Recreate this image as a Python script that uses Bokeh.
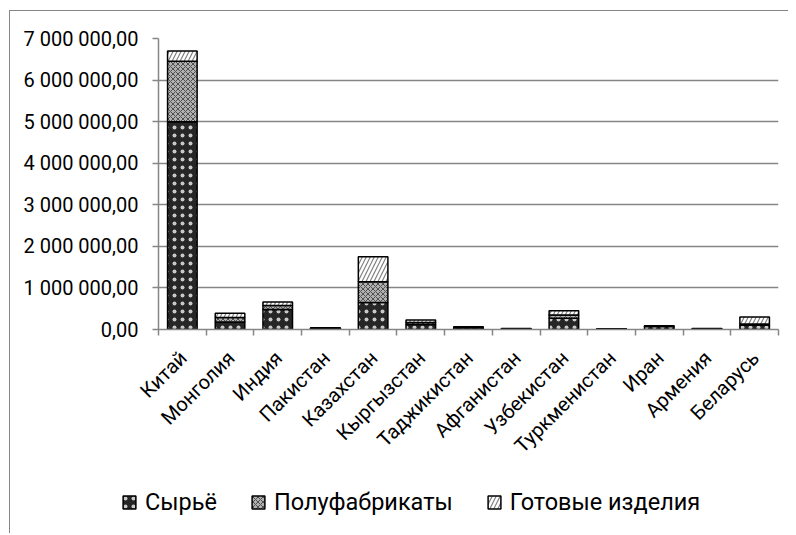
import math
from bokeh.plotting import figure
from bokeh.layouts import column
from bokeh.models import Range1d, FixedTicker, Legend, LegendItem, ColumnDataSource
from bokeh.embed import file_html
from bokeh.resources import INLINE

categories = ["Китай", "Монголия", "Индия", "Пакистан", "Казахстан", "Кыргызстан",
              "Таджикистан", "Афганистан", "Узбекистан", "Туркменистан", "Иран",
              "Армения", "Беларусь"]
syrye = [5000000, 180000, 480000, 30000, 650000, 120000, 45000, 15000, 270000, 10000, 70000, 15000, 100000]
polufabrikaty = [1450000, 110000, 100000, 5000, 500000, 50000, 10000, 5000, 80000, 5000, 10000, 5000, 30000]
gotovye = [250000, 100000, 80000, 5000, 600000, 60000, 10000, 5000, 100000, 5000, 10000, 5000, 170000]
series_names = ["Сырьё", "Полуфабрикаты", "Готовые изделия"]
y_ticks = [0, 1000000, 2000000, 3000000, 4000000, 5000000, 6000000, 7000000]

FONT = "Roboto"
GRAY = "#868686"
LABEL_SHIFT = 0.02
W = 778

styles = dict(
    fill_color=["#262626", "#b0b0b0", "white"],
    hatch_pattern=["dot", "diagonal_cross", "right_diagonal_line"],
    hatch_color=["white", "#505050", "#808080"],
    hatch_alpha=[0.75, 1.0, 1.0],
    hatch_scale=[8, 5, 8],
    hatch_weight=[1, 1, 1.2],
)

x = list(range(len(categories)))
src = ColumnDataSource(dict(x=x, syrye=syrye, polu=polufabrikaty, gotov=gotovye))

p = figure(width=W, height=458, output_backend="svg", toolbar_location=None,
           x_range=Range1d(-0.5, len(categories) - 0.5), y_range=Range1d(0, y_ticks[-1]),
           min_border_left=148, min_border_right=10, min_border_top=27, min_border_bottom=140)
p.outline_line_color = None
p.frame_align = False

rs = p.vbar_stack(["syrye", "polu", "gotov"], x="x", width=0.62, source=src,
                  line_color="black", line_width=1.5, **styles)

# y axis
p.yaxis.ticker = FixedTicker(ticks=y_ticks, minor_ticks=[])
p.yaxis.major_label_overrides = {v: f"{v:,.2f}".replace(",", " ").replace(".", ",") for v in y_ticks}
p.yaxis.axis_line_color = GRAY
p.yaxis.axis_line_width = 1.5
p.yaxis.major_tick_line_color = GRAY
p.yaxis.major_tick_line_width = 1.5
p.yaxis.major_tick_out = 6
p.yaxis.major_tick_in = 0
p.yaxis.major_label_standoff = 14
p.yaxis.major_label_text_font = FONT
p.yaxis.major_label_text_font_size = "20px"
p.yaxis.major_label_text_color = "black"
p.ygrid.grid_line_color = GRAY
p.ygrid.grid_line_width = 1.5

# x axis
label_pos = [i + LABEL_SHIFT for i in x]
p.xaxis.ticker = FixedTicker(ticks=label_pos, minor_ticks=[i - 0.5 for i in range(len(categories) + 1)])
p.xaxis.major_label_overrides = {pos: c for pos, c in zip(label_pos, categories)}
p.xaxis.axis_line_color = GRAY
p.xaxis.axis_line_width = 1.5
p.xaxis.major_tick_out = 0
p.xaxis.major_tick_in = 0
p.xaxis.minor_tick_out = 6
p.xaxis.minor_tick_in = 0
p.xaxis.minor_tick_line_color = GRAY
p.xaxis.minor_tick_line_width = 1.5
p.xaxis.major_label_orientation = math.pi / 4
p.xaxis.major_label_standoff = 19
p.xaxis.major_label_text_font = FONT
p.xaxis.major_label_text_font_size = "20px"
p.xaxis.major_label_text_color = "black"
p.xgrid.visible = False

# legend strip
p2 = figure(width=W, height=64, output_backend="svg", toolbar_location=None,
            x_axis_type=None, y_axis_type=None,
            x_range=Range1d(-100, -99), y_range=Range1d(-100, -99),
            min_border_left=0, min_border_right=0, min_border_top=0, min_border_bottom=0)
p2.outline_line_color = None
p2.frame_align = False
items = []
for i, (name, field) in enumerate(zip(series_names, ["syrye", "polu", "gotov"])):
    r = p2.vbar(x="x", top=field, source=src, width=0.62, line_color="black", line_width=1.5,
                visible=False, **{k: v[i] for k, v in styles.items()})
    items.append(LegendItem(label=name, renderers=[r]))

legend = Legend(items=items, orientation="horizontal", location=(111, 17),
                border_line_color=None, background_fill_alpha=0,
                inactive_fill_alpha=0,
                label_text_font=FONT, label_text_font_size="23.5px", label_text_color="black",
                glyph_width=16, glyph_height=16, label_standoff=8, spacing=33,
                padding=0, margin=0)
p2.add_layout(legend, "center")

layout = column(p, p2, spacing=0)
layout.styles = {"border-left": "1px solid #868686", "border-top": "1px solid #868686",
                 "margin-left": "9px", "margin-top": "10px"}

open("out.html", "w").write(file_html(layout, INLINE))
